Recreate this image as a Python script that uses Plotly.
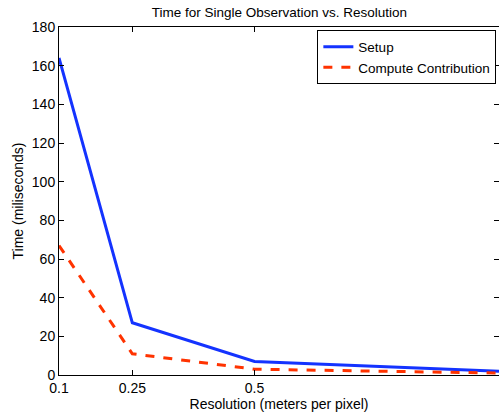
import plotly.graph_objects as go

resolution = [0.1, 0.25, 0.5, 1.0]
setup_ms = [164, 27, 7, 2]
compute_ms = [67, 11, 3, 1]
x_ticks = [0.1, 0.25, 0.5, 1]
x_tick_labels = ["0.1", "0.25", "0.5", "1"]
y_ticks = list(range(0, 181, 20))

FONT = "Liberation Sans, Arial, Helvetica, sans-serif"

fig = go.Figure()
fig.add_trace(go.Scatter(x=resolution, y=setup_ms, mode="lines", name="Setup",
                         line=dict(color="#1433ff", width=3)))
fig.add_trace(go.Scatter(x=resolution, y=compute_ms, mode="lines", name="Compute Contribution",
                         line=dict(color="#ff3300", width=3, dash="dash")))

axis_common = dict(showgrid=False, zeroline=False, showline=True, linecolor="black",
                   linewidth=1, mirror="ticks", ticks="inside", ticklen=5,
                   tickcolor="black", automargin=False,
                   tickfont=dict(size=14, color="black", family=FONT))

fig.update_layout(
    width=499, height=412,
    margin=dict(l=59, r=0, t=27, b=37),
    paper_bgcolor="white", plot_bgcolor="white",
    font=dict(family=FONT, size=12, color="black"),
    title=dict(text="Time for Single Observation vs. Resolution", x=0.56, xanchor="center",
               y=0.97, yanchor="middle", font=dict(size=13.5)),
    xaxis=dict(range=[0.1, 1.0], tickvals=x_ticks, ticktext=x_tick_labels,
               title=dict(text="Resolution (meters per pixel)", font=dict(size=14), standoff=0),
               **axis_common),
    yaxis=dict(range=[0, 180], tickvals=y_ticks,
               title=dict(text="Time (miliseconds)", font=dict(size=14), standoff=4),
               **axis_common),
    legend=dict(x=0.994, xanchor="right", y=0.99, yanchor="top",
                bgcolor="white", bordercolor="black", borderwidth=1,
                font=dict(size=13.5), tracegroupgap=0, itemwidth=30),
    showlegend=True,
)

fig.write_html("out.html", config={"displayModeBar": False},
               post_script="document.body.style.margin='0';")
